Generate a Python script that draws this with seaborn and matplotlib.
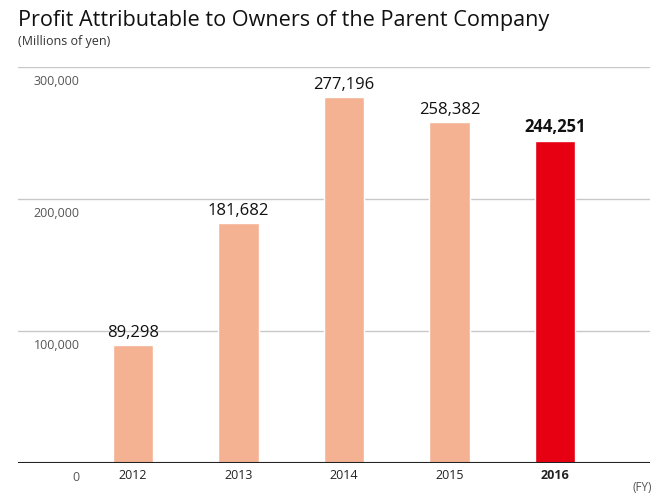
import pandas as pd
import numpy as np
import matplotlib.pyplot as plt
import seaborn as sns

sns.set_style("white")
plt.rcParams['font.family'] = ['Open Sans', 'DejaVu Sans']

# Data
years = ['2012', '2013', '2014', '2015', '2016']
profit = [89298, 181682, 277196, 258382, 244251]
bar_colors = ['#F5B293', '#F5B293', '#F5B293', '#F5B293', '#E60012']
y_ticks = [0, 100000, 200000, 300000]

df = pd.DataFrame({'Year': years, 'Profit': profit})

fig = plt.figure(figsize=(6.56, 4.98), dpi=100)
ax = fig.add_axes([18 / 656, 35 / 498, 632 / 656, 396 / 498])

sns.barplot(data=df, x='Year', y='Profit', hue='Year', palette=bar_colors,
            width=0.38, legend=False, ax=ax, saturation=1)

ax.set_xlim(-1.09, 4.9)
ax.set_ylim(0, 300000)

# Gridlines
for t in y_ticks[1:]:
    ax.axhline(t, color='#C8C8C8', linewidth=1, zorder=0)
ax.axhline(0, color='#222222', linewidth=1.5, zorder=3)

sns.despine(ax=ax, left=True, bottom=True, top=True, right=True)
ax.set_yticks([])
ax.set_xlabel('')
ax.set_ylabel('')
ax.tick_params(axis='x', length=0, pad=4)
ax.set_xticks(range(len(years)))
ax.set_xticklabels(years, fontsize=9, color='#222222')
ax.get_xticklabels()[-1].set_fontweight('bold')

# Y tick labels below gridlines
for t in y_ticks:
    ax.annotate(f'{t:,}', xy=(0, t), xycoords=('axes fraction', 'data'),
                xytext=(44.5, -6), textcoords='offset points', ha='right', va='top',
                fontsize=9, color='#555555')

# Value labels
for i, v in enumerate(profit):
    ax.annotate(f'{v:,}', xy=(i, v), xytext=(0, 3), textcoords='offset points',
                ha='center', va='bottom', fontsize=12, color='#111111',
                fontweight='bold' if i == len(profit) - 1 else 'normal')

fig.text(18 / 656, 1 - 20 / 498, 'Profit Attributable to Owners of the Parent Company',
         fontsize=15.6, color='#111111', va='center', ha='left')
fig.text(18 / 656, 1 - 42 / 498, '(Millions of yen)', fontsize=9, color='#333333',
         va='center', ha='left')
fig.text(652 / 656, 1 - 487 / 498, '(FY)', fontsize=8.5, color='#555555', va='center', ha='right')

plt.savefig('out.png', dpi=100)
